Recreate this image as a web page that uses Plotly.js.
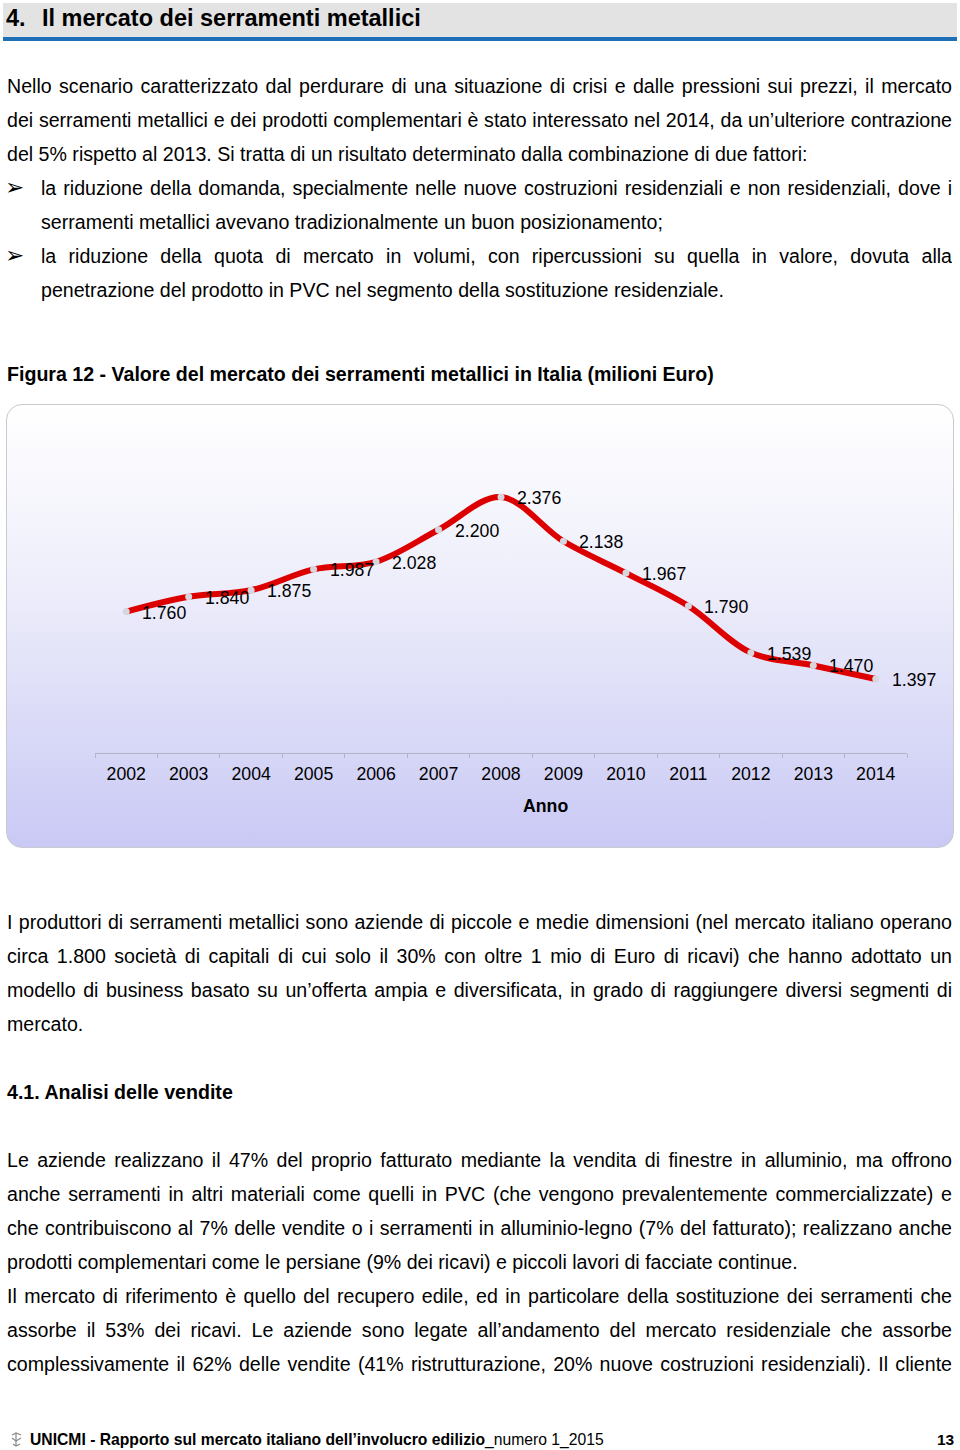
<!DOCTYPE html>
<html>
<head>
<meta charset="utf-8">
<script src="https://cdn.plot.ly/plotly-3.0.1.min.js"></script>
<style>
  html, body { margin:0; padding:0; background:#fff; }
  body { width:960px; height:1450px; position:relative; overflow:hidden;
         font-family:"Liberation Sans", Arial, sans-serif; color:#000; }
  .ln { position:absolute; height:34px; line-height:34px; font-size:19.6px; white-space:nowrap; }
  .j { text-align:justify; text-align-last:justify; white-space:normal; overflow:hidden; }
  .b { font-weight:bold; }
  #hdr { position:absolute; left:3px; top:3px; width:954px; height:34px; background:#e3e3e3; }
  #hdrline { position:absolute; left:3px; top:37px; width:954px; height:4px; background:#1d6fb8; }
  .hdrtxt { position:absolute; top:3px; height:34px; line-height:31px; font-size:23.5px; font-weight:bold; white-space:pre; }
  #box { position:absolute; left:6px; top:404px; width:946px; height:442px; border:1px solid #c9c9cf;
         border-radius:16px; background:linear-gradient(to bottom, #ffffff 0%, #eeeefb 40%, #c9c9f5 100%); }
  #chart { position:absolute; left:6px; top:404px; width:948px; height:444px; }
  .arrow { position:absolute; left:5px; font-size:23px; font-family:"DejaVu Sans", sans-serif; }
  #foot { position:absolute; left:30px; top:1431px; font-family:"Liberation Sans Narrow","Arial Narrow","Liberation Sans",sans-serif; font-size:15.7px; line-height:18px; white-space:nowrap; }
  #pg { position:absolute; left:937px; top:1431px; font-size:15.5px; line-height:18px; font-weight:bold; }
</style>
</head>
<body>
<div id="hdr"></div>
<div id="hdrline"></div>
<div class="hdrtxt" style="left:6px;">4.</div>
<div class="hdrtxt" style="left:42px;">Il mercato dei serramenti metallici</div>

<div class="ln j" style="left:7px;width:945px;top:69px;">Nello scenario caratterizzato dal perdurare di una situazione di crisi e dalle pressioni sui prezzi, il mercato</div>
<div class="ln j" style="left:7px;width:945px;top:103px;">dei serramenti metallici e dei prodotti complementari è stato interessato nel 2014, da un’ulteriore contrazione</div>
<div class="ln" style="left:7px;top:137px;">del 5% rispetto al 2013. Si tratta di un risultato determinato dalla combinazione di due fattori:</div>

<div class="ln arrow" style="top:170px;">&#10146;</div>
<div class="ln j" style="left:41px;width:911px;top:171px;">la riduzione della domanda, specialmente nelle nuove costruzioni residenziali e non residenziali, dove i</div>
<div class="ln" style="left:41px;top:205px;">serramenti metallici avevano tradizionalmente un buon posizionamento;</div>
<div class="ln arrow" style="top:238px;">&#10146;</div>
<div class="ln j" style="left:41px;width:911px;top:239px;">la riduzione della quota di mercato in volumi, con ripercussioni su quella in valore, dovuta alla</div>
<div class="ln" style="left:41px;top:273px;">penetrazione del prodotto in PVC nel segmento della sostituzione residenziale.</div>

<div class="ln b" style="left:7px;top:357px;">Figura 12 - Valore del mercato dei serramenti metallici in Italia (milioni Euro)</div>

<div id="box"></div>
<div id="chart"></div>

<div class="ln j" style="left:7px;width:945px;top:905px;">I produttori di serramenti metallici sono aziende di piccole e medie dimensioni (nel mercato italiano operano</div>
<div class="ln j" style="left:7px;width:945px;top:939px;">circa 1.800 società di capitali di cui solo il 30% con oltre 1 mio di Euro di ricavi) che hanno adottato un</div>
<div class="ln j" style="left:7px;width:945px;top:973px;">modello di business basato su un’offerta ampia e diversificata, in grado di raggiungere diversi segmenti di</div>
<div class="ln" style="left:7px;top:1007px;">mercato.</div>

<div class="ln b" style="left:7px;top:1075px;">4.1. Analisi delle vendite</div>

<div class="ln j" style="left:7px;width:945px;top:1143px;">Le aziende realizzano il 47% del proprio fatturato mediante la vendita di finestre in alluminio, ma offrono</div>
<div class="ln j" style="left:7px;width:945px;top:1177px;">anche serramenti in altri materiali come quelli in PVC (che vengono prevalentemente commercializzate) e</div>
<div class="ln j" style="left:7px;width:945px;top:1211px;">che contribuiscono al 7% delle vendite o i serramenti in alluminio-legno (7% del fatturato); realizzano anche</div>
<div class="ln" style="left:7px;top:1245px;">prodotti complementari come le persiane (9% dei ricavi) e piccoli lavori di facciate continue.</div>
<div class="ln j" style="left:7px;width:945px;top:1279px;">Il mercato di riferimento è quello del recupero edile, ed in particolare della sostituzione dei serramenti che</div>
<div class="ln j" style="left:7px;width:945px;top:1313px;">assorbe il 53% dei ricavi. Le aziende sono legate all’andamento del mercato residenziale che assorbe</div>
<div class="ln j" style="left:7px;width:945px;top:1347px;">complessivamente il 62% delle vendite (41% ristrutturazione, 20% nuove costruzioni residenziali). Il cliente</div>

<svg style="position:absolute;left:9px;top:1432px;" width="15" height="16" viewBox="0 0 15 16">
  <g fill="none" stroke="#8a8a8a" stroke-width="1.2">
    <path d="M3 3 L7 1 L12 3"/><path d="M7 1 L7 14"/><path d="M3 6 L7 9 L12 6"/><path d="M4 12 L7 14 L11 12"/>
  </g>
</svg>
<div id="foot"><b>UNICMI - Rapporto sul mercato italiano dell’involucro edilizio</b>_numero 1_2015</div>
<div id="pg">13</div>

<script>
const years = ["2002","2003","2004","2005","2006","2007","2008","2009","2010","2011","2012","2013","2014"];
const values = [1760, 1840, 1875, 1987, 2028, 2200, 2376, 2138, 1967, 1790, 1539, 1470, 1397];
const xTitle = "Anno";

function fmtIt(v) {
  return String(v).replace(/\B(?=(\d{3})+(?!\d))/g, ".");
}

const FONT = "Liberation Sans, Arial, sans-serif";

const trace = {
  type: "scatter",
  mode: "lines+markers",
  x: years,
  y: values,
  line: { color: "#dc0000", width: 6, shape: "spline", smoothing: 1 },
  marker: { color: "#d6d6de", size: 7 },
  hoverinfo: "skip"
};

const annotations = values.map((v, i) => ({
  x: i, y: v, xref: "x", yref: "y",
  text: fmtIt(v), showarrow: false,
  xanchor: "left", yanchor: "middle", xshift: 14, yshift: -1,
  font: { family: FONT, size: 17.7, color: "#000" }
}));

annotations.push({
  x: 0.555, y: -0.173, xref: "paper", yref: "paper",
  text: "<b>" + xTitle + "</b>", showarrow: false,
  xanchor: "center", yanchor: "middle",
  font: { family: FONT, size: 17.7, color: "#000" }
});

const layout = {
  width: 948, height: 444,
  margin: { l: 89, r: 47, t: 44, b: 95 },
  paper_bgcolor: "rgba(0,0,0,0)",
  plot_bgcolor: "rgba(0,0,0,0)",
  showlegend: false,
  font: { family: FONT, size: 17.7, color: "#000" },
  xaxis: {
    type: "category",
    range: [-0.5, 12.5],
    showgrid: false, zeroline: false,
    showline: true, linecolor: "#b4b4c4", linewidth: 1,
    ticks: "outside", tickson: "boundaries", ticklen: 4, tickcolor: "#b4b4c4",
    ticklabelstandoff: 5,
    tickfont: { size: 17.7, color: "#000" }
  },
  yaxis: {
    range: [999, 2640],
    visible: false, showgrid: false, zeroline: false
  },
  annotations: annotations
};

Plotly.newPlot("chart", [trace], layout, { displayModeBar: false, staticPlot: true });
</script>
</body>
</html>
